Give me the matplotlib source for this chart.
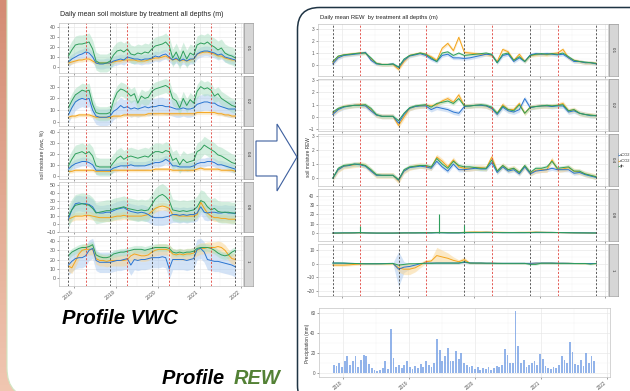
import numpy as np
import pandas as pd
import matplotlib
matplotlib.use("Agg")
import matplotlib.pyplot as plt
import matplotlib.dates as mdates
from matplotlib.patches import FancyBboxPatch, Polygon, Rectangle
from matplotlib.colors import LinearSegmentedColormap

plt.rcParams['font.family'] = ['Liberation Sans', 'DejaVu Sans']

# ---- data -------------------------------------------------------------
days = pd.date_range("2017-11-10", periods=49, freq=pd.DateOffset(months=1))
rain_days = pd.date_range("2017-11-10", periods=97, freq="15D")
season_start = pd.to_datetime(["2017-11-10", "2018-11-10", "2019-11-10", "2020-11-10", "2021-11-10"])
season_end = pd.to_datetime(["2018-04-10", "2019-04-10", "2020-04-10", "2021-04-10"])
depths = ["0.1", "0.2", "0.4", "0.8", "1"]
treatments = ["aCO2", "eCO2", "gh"]

# volumetric water content (%), monthly, per depth: a = aCO2 (blue), e = eCO2 (orange), g = gh (green)
vwc_01_a = [5,8,10,12,13,15,14,10,4,3, 3,4,4,6,7,8,7,10,9,8, 8,7,8,8,9,11,10,12,13,10, 7,9,6,8,6,8,8,13,15,16, 16,15,14,12,13,10,9,8,7]
vwc_01_e = [4,5,6,7,7,8,8,6,4,4, 4,4,4,5,6,6,7,7,7,7, 6,6,6,7,8,9,9,10,11,9, 7,8,6,7,6,7,8,13,14,15, 15,14,13,11,11,9,8,7,7]
vwc_01_g = [11,17,22,23,23,24,25,18,6,4, 4,4,6,12,16,17,15,18,13,12, 14,13,15,14,18,21,22,23,25,21, 9,15,7,16,8,14,12,22,24,23, 25,22,20,17,19,14,12,11,9]
vwc_02_a = [6,12,17,19,20,19,20,10,5,4, 4,4,5,9,11,14,12,13,11,12, 11,12,13,12,13,13,14,14,13,13, 12,11,11,12,11,11,12,15,16,17, 17,16,16,14,13,12,11,11,11]
vwc_02_e = [4,5,5,6,6,6,6,5,4,4, 4,4,4,5,5,5,6,6,6,6, 6,6,6,7,7,7,7,7,7,7, 7,7,7,7,7,7,7,8,8,8, 8,8,8,7,7,6,6,5,5]
vwc_02_g = [12,18,23,25,27,26,27,15,8,7, 7,7,8,18,25,28,27,25,22,24, 16,22,20,21,26,28,29,30,31,29, 20,18,12,20,14,19,16,26,30,28, 29,27,22,24,20,18,16,14,13]
vwc_04_a = [6,9,11,12,13,13,12,10,5,5, 5,5,5,7,8,9,9,9,10,9, 9,9,9,10,11,12,12,13,15,13, 9,9,8,8,8,8,9,11,12,12, 13,13,12,10,10,9,8,7,6]
vwc_04_e = [4,4,5,5,5,5,5,5,4,4, 4,4,4,5,5,5,5,5,5,5, 5,5,5,5,5,6,6,6,6,6, 5,5,5,5,5,5,5,6,7,6, 6,6,6,6,5,5,5,5,4]
vwc_04_g = [9,15,20,21,22,20,22,18,9,8, 8,8,8,12,16,18,15,17,18,17, 16,17,18,17,20,22,22,21,23,22, 14,16,10,15,12,13,14,22,24,28, 26,24,22,19,18,16,14,12,11]
vwc_08_a = [6,18,26,27,26,26,25,22,15,14, 14,15,15,17,19,20,21,18,16,15, 14,15,14,12,9,8,8,8,9,10, 12,12,11,12,11,12,12,14,22,15, 14,15,15,14,14,15,14,14,13]
vwc_08_e = [6,8,10,10,10,11,11,10,9,8, 8,8,8,9,10,10,11,10,10,10, 10,10,11,12,16,20,22,23,22,20, 12,11,10,10,10,10,10,12,28,20, 14,10,8,8,7,7,6,6,6]
vwc_08_g = [10,18,24,25,26,25,24,20,14,15, 16,17,17,19,20,21,22,20,19,18, 17,18,17,18,25,32,36,38,35,30, 18,17,16,17,16,17,18,22,30,28, 22,18,20,16,15,15,15,14,14]
vwc_10_a = [14,18,21,22,22,24,30,32,19,17, 17,17,17,18,19,19,20,21,14,20, 19,20,20,21,22,22,22,23,22,10, 20,20,20,20,19,20,21,31,32,28, 20,19,18,18,17,16,15,14,12]
vwc_10_e = [13,11,18,26,30,31,31,31,21,19, 19,18,19,19,19,19,19,20,24,26, 25,24,24,25,28,30,31,31,31,30, 26,25,26,25,26,26,27,30,32,32, 33,33,33,34,33,30,25,21,20]
vwc_10_g = [24,28,30,32,33,33,34,36,25,23, 22,22,23,26,27,28,28,29,30,31, 31,31,30,31,32,33,33,33,33,32, 28,27,28,27,28,28,29,32,33,33, 33,32,30,27,25,24,25,28,30]
# ribbon half widths (a, e, g) per depth
vwc_sd = [[5, 2, 9], [7, 1.5, 6], [4, 1.5, 8], [10, 5, 14], [11, 6, 4]]

# relative extractable water, monthly
rew_01_a = [0.1,0.6,0.8,0.85,0.9,0.95,1.05,0.4,0.1,0.05, 0.05,0.1,-0.2,0.4,0.75,0.85,0.95,0.8,0.5,0.3, 0.8,0.9,0.6,0.6,0.55,0.6,0.7,0.8,0.9,0.85, 0.2,0.8,0.9,0.3,0.6,0.3,0.85,0.95,0.9,0.95, 0.9,0.85,0.9,0.6,0.3,0.3,0.2,0.2,0.1]
rew_01_e = [0.2,0.7,0.85,0.9,0.95,1.0,1.0,0.5,0.15,0.05, 0.05,0.05,-0.35,0.3,0.8,0.9,1.0,0.9,0.7,0.4, 1.4,1.8,1.2,2.3,1.05,1.0,0.95,0.9,0.9,0.8, 0.3,1.3,1.1,0.4,0.9,0.3,0.8,0.85,0.9,0.85, 0.95,1.0,1.3,0.6,0.4,0.3,0.2,0.2,0.15]
rew_01_g = [0.3,0.75,0.85,0.9,0.95,1.0,1.0,0.6,0.15,0.05, 0.05,0.1,-0.15,0.5,0.8,0.9,1.0,0.9,0.6,0.3, 1.0,1.1,0.8,1.0,0.8,0.85,0.9,0.95,1.0,0.9, 0.2,0.9,1.0,0.4,0.7,0.3,0.8,0.9,0.95,0.9, 0.95,0.9,1.0,0.7,0.4,0.3,0.25,0.2,0.15]
rew_02_a = [0.2,0.6,0.8,0.9,0.95,0.95,0.9,0.5,0.15,0.05, 0.05,0.05,-0.5,0.2,0.7,0.85,0.9,0.9,0.6,0.8, 0.7,0.6,0.4,0.3,0.85,0.9,0.95,0.95,0.9,0.7, 0.2,0.8,0.5,0.4,0.6,1.5,0.75,0.85,0.9,0.9, 0.85,0.9,0.9,0.4,0.5,0.3,0.2,0.1,0.1]
rew_02_e = [0.3,0.65,0.85,0.9,0.95,1.0,0.95,0.6,0.15,0.05, 0.05,0.05,-0.7,0.0,0.7,0.85,0.9,0.95,0.9,1.0, 1.3,1.5,1.2,1.8,0.9,0.9,0.95,0.95,0.9,0.7, 0.3,1.0,0.6,0.6,1.1,0.3,0.8,0.85,0.9,0.9, 0.9,0.95,1.1,0.5,0.6,0.3,0.2,0.15,0.1]
rew_02_g = [0.4,0.7,0.85,0.9,0.95,0.95,1.0,0.7,0.2,0.05, 0.05,0.05,-0.3,0.3,0.75,0.9,0.95,1.0,0.8,1.1, 1.2,1.3,1.1,1.5,0.9,0.9,0.95,1.0,0.95,0.8, 0.3,0.9,0.6,0.5,1.0,0.3,0.8,0.85,0.9,0.95, 0.9,0.95,1.0,0.5,0.6,0.3,0.2,0.15,0.1]
rew_04_a = [0.0,0.6,0.85,0.9,1.0,0.95,0.85,0.5,0.2,0.2, 0.2,0.2,-0.15,0.5,0.75,0.8,0.85,0.8,0.7,1.2, 0.8,0.5,1.0,0.6,0.6,0.65,0.7,0.65,0.65,1.1, 0.4,0.8,0.5,0.6,0.3,0.8,0.3,0.5,0.55,0.6, 0.7,0.6,0.6,0.6,0.35,0.4,0.25,0.15,0.05]
rew_04_e = [0.0,0.6,0.85,0.9,0.95,1.0,0.9,0.55,0.2,0.2, 0.2,0.2,-0.2,0.5,0.75,0.85,0.9,0.85,0.75,1.5, 1.2,0.8,1.3,0.8,0.7,0.7,0.75,0.75,0.7,1.5, 0.5,0.9,0.6,0.7,0.4,0.85,0.35,0.55,0.6,0.6, 1.3,0.6,0.65,0.75,0.5,0.45,0.3,0.2,0.1]
rew_04_g = [0.0,0.7,0.9,0.95,1.0,1.0,0.9,0.6,0.25,0.2, 0.2,0.2,-0.1,0.6,0.8,0.85,0.9,0.9,0.8,1.4, 1.0,0.7,1.2,0.9,0.8,0.8,0.75,0.7,0.7,1.3, 0.5,0.9,0.6,0.7,0.4,0.9,0.4,0.7,0.7,0.8, 1.2,0.7,0.75,0.8,0.5,0.5,0.3,0.2,0.1]
rew_08_a = [0.2,0.2,0.3,0.3,0.3,0.5,0.3,0.2,0.1,0.1, 0.1,0.1,0.2,0.3,0.3,0.3,0.3,0.3,0.3,0.5, 0.5,0.3,0.3,0.3,0.5,0.6,0.7,0.7,0.8,0.8, 0.7,0.6,0.6,0.6,0.6,0.6,0.6,0.8,0.8,0.8, 0.8,0.7,0.6,0.5,0.4,0.4,0.3,0.3,0.2]
rew_08_e = [0,0,0.1,0.2,0.3,0.4,0.3,0.2,0.1,0.1, 0.1,0.1,0.2,0.3,0.4,0.4,0.5,0.6,0.6,0.8, 0.8,0.7,0.6,0.6,1.0,1.2,1.3,1.2,1.2,1.1, 1.0,0.9,0.8,0.8,0.9,0.9,1.0,1.2,1.0,0.9, 0.8,0.7,0.6,0.5,0.4,0.4,0.3,0.2,0.2]
rew_08_g = [0.1,0.2,0.3,0.3,0.4,0.6,0.3,0.2,0.1,0.1, 0.1,0.1,0.2,0.3,0.3,0.3,0.4,0.4,0.4,0.6, 0.5,0.4,0.4,0.4,0.7,0.8,0.8,0.8,0.9,0.8, 0.7,0.6,0.6,0.6,0.6,0.6,0.7,0.9,0.9,0.8, 0.8,0.7,0.6,0.5,0.4,0.3,0.3,0.2,0.2]
rew_10_a = [0.5,0.5,0.4,0.3,0.2,0.1,0,0,0,0.1, 0.2,0.3,-4,-2.5,-2,-1,0,0.5,0.5,0.5, 0.5,0.5,0.5,0.5,1.0,0.6,0.5,0.5,0.4,0.4, 0.3,0.3,0.3,0.3,0.3,0.3,0.3,0.5,0.5,0.5, 0.5,0.4,0.4,0.3,0.2,0.2,0.2,0.2,0.2]
rew_10_e = [-1,-1,-1,-0.8,-0.5,-0.2,0,0,0,0, 0,0,-3,-4,-4,-3,-1,1.5,2,6, 5,4,2.5,1.5,3,0.5,0.4,0.4,0.3,0.3, 0.3,0.2,0.2,0.2,0.2,0.2,0.2,0.4,0.4,0.4, 0.4,0.3,0.3,0.3,0.2,0.1,0.1,0.1,0.1]
rew_10_g = [0.5,0.5,0.5,0.3,0.2,0.1,0,0,0,0, 0.1,0.2,-1,-0.5,0,0,0.2,0.3,0.3,0.5, 0.5,0.5,0.5,0.5,1.5,0.5,0.5,0.5,0.4,0.4, 0.3,0.3,0.3,0.3,0.3,0.3,-0.5,-0.5,0.4,0.4, 0.4,0.3,0.3,0.3,0.2,0.2,0.2,-0.3,0.2]
rew_10_a_sd = [0.5,0.5,0.5,0.5,0.5,0.5,0.5,0.5,0.5,0.5, 0.5,0.5,13,4,2,1,0.5,0.5,0.5,0.5, 0.5,0.5,0.5,0.5,0.5,0.5,0.5,0.5,0.5,0.5, 0.5,0.5,0.5,0.5,0.5,0.5,0.5,0.5,0.5,0.5, 0.5,0.5,0.5,0.5,0.5,0.5,0.5,0.5,0.5]
rew_10_e_sd = [0.8,0.8,0.8,0.8,0.8,0.8,0.8,0.8,0.8,0.8, 0.8,0.8,3,4,4,3,2,1.5,1.5,6, 5,4,2.5,1.5,2,0.5,0.5,0.5,0.5,0.5, 0.5,0.5,0.5,0.5,0.5,0.5,0.5,0.5,0.5,0.5, 0.5,0.5,0.5,0.5,0.5,0.5,0.5,0.5,0.5]
rew_sd = [[0.15, 0.15, 0.1], [0.2, 0.2, 0.15], [0.15, 0.2, 0.15], [0.4, 0.4, 0.4], [rew_10_a_sd, rew_10_e_sd, 0.6]]
# short events at 0.8 m (green)
spike_dates = pd.to_datetime(["2018-04-10", "2019-06-20", "2019-11-10"])
spike_vals = [8, 20, 9]

# precipitation (mm), 15-day steps
rain = [8,7,10,6,12,17,8,12,17,6, 13,18,17,9,5,3,2,3,5,12, 4,44,15,6,8,5,8,12,6,4,
        7,5,9,6,12,8,6,10,34,23, 12,17,25,12,12,22,14,20,10,8, 6,7,4,6,3,5,4,6,3,5,
        7,6,8,24,18,10,10,62,27,10, 13,6,8,10,12,8,19,14,7,5, 4,6,5,8,17,13,10,31,21,9,
        8,13,7,20,10,17,12]

vwc = [(vwc_01_a, vwc_01_e, vwc_01_g), (vwc_02_a, vwc_02_e, vwc_02_g), (vwc_04_a, vwc_04_e, vwc_04_g),
       (vwc_08_a, vwc_08_e, vwc_08_g), (vwc_10_a, vwc_10_e, vwc_10_g)]
rew = [(rew_01_a, rew_01_e, rew_01_g), (rew_02_a, rew_02_e, rew_02_g), (rew_04_a, rew_04_e, rew_04_g),
       (rew_08_a, rew_08_e, rew_08_g), (rew_10_a, rew_10_e, rew_10_g)]

# ---- style -------------------------------------------------------------
line_c = ['#2a74d0', '#f4a51c', '#2e9e5b']
fill_c = ['#a9c8ef', '#f9d48f', '#a9dfc0']
W, H = 630, 391
XLIM = (pd.Timestamp("2017-08-20"), pd.Timestamp("2022-01-15"))

fig = plt.figure(figsize=(W / 100, H / 100), dpi=100)
bg = fig.add_axes([0, 0, 1, 1])
bg.set_xlim(0, W)
bg.set_ylim(H, 0)
bg.axis('off')
cmap = LinearSegmentedColormap.from_list('s', ['#d48c73', '#f0c6b0'])
bg.imshow(np.linspace(0, 1, 64)[:, None], cmap=cmap, aspect='auto', extent=[0, 40, H, 0])
bg.add_patch(FancyBboxPatch((7, -60), 800, 458, boxstyle='round,pad=0,rounding_size=30',
                            fc='white', ec='#cfe6c1', lw=0.8))
bg.add_patch(FancyBboxPatch((297.5, 7.5), 400, 400, boxstyle='round,pad=0,rounding_size=22',
                            fc='white', ec='#1f3444', lw=1.1))
bg.add_patch(Polygon([(256, 141), (277, 141), (277, 124), (297, 157), (277, 191), (277, 176), (256, 176)],
                     closed=True, fc='white', ec='#3d5f9e', lw=0.8))
bg.text(62, 318, "Profile VWC", fontsize=14.6, fontweight='bold', style='italic', va='center')
bg.text(230, 378, "Profile ", fontsize=14.4, fontweight='bold', style='italic', va='center', ha='right')
bg.text(234, 378, "REW", fontsize=14.4, fontweight='bold', style='italic', va='center', color='#538135')


def px_axes(x0, y0, x1, y1):
    return fig.add_axes([x0 / W, 1 - y1 / H, (x1 - x0) / W, (y1 - y0) / H])


def style(ax, fs):
    ax.set_facecolor('white')
    ax.grid(True, which='major', color='#e6e6e6', lw=0.45)
    ax.grid(True, which='minor', color='#f2f2f2', lw=0.3)
    ax.set_axisbelow(True)
    for s in ax.spines.values():
        s.set_color('#c4c4c4')
        s.set_linewidth(0.5)
    ax.tick_params(labelsize=fs, length=1.5, width=0.4, pad=1, colors='#555555')
    ax.set_xlim(*XLIM)
    ax.xaxis.set_major_locator(mdates.YearLocator())
    ax.xaxis.set_minor_locator(mdates.MonthLocator(bymonth=7))
    ax.xaxis.set_major_formatter(mdates.DateFormatter('%Y'))


def facet(x0, x1, y0, y1, series, sds, ylim, yticks, strip, fs, bottom=False):
    ax = px_axes(x0, y0, x1, y1)
    style(ax, fs)
    for vals, sd, fc in zip(series, sds, fill_c):
        v = np.asarray(vals, float)
        s = np.asarray(sd, float)
        ax.fill_between(days, v - s, v + s, color=fc, alpha=0.5, lw=0)
    for i in [1, 0, 2]:
        ax.plot(days, series[i], color=line_c[i], lw=0.7)
    for d in season_start:
        ax.axvline(d, color='#444444', ls=(0, (2.5, 2)), lw=0.6)
    for d in season_end:
        ax.axvline(d, color='#e0413a', ls=(0, (2.5, 2)), lw=0.6)
    ax.set_ylim(*ylim)
    ax.set_yticks(yticks)
    ax.set_yticks([(a + b) / 2 for a, b in zip(yticks[:-1], yticks[1:])], minor=True)
    ax.tick_params(axis='y', which='minor', length=0)
    ax.tick_params(axis='x', which='minor', length=0)
    if bottom:
        for t in ax.get_xticklabels():
            t.set_rotation(40)
            t.set_ha('right')
    else:
        ax.tick_params(axis='x', labelbottom=False)
    sx = px_axes(x1 + 0.5, y0, x1 + 9.5, y1)
    sx.set_facecolor('#d6d6d6')
    sx.set_xticks([])
    sx.set_yticks([])
    for s in sx.spines.values():
        s.set_color('#9a9a9a')
        s.set_linewidth(0.5)
    sx.text(0.5, 0.5, strip, rotation=270, ha='center', va='center', fontsize=3.2, color='#333333',
            transform=sx.transAxes)
    return ax


# ---- left: VWC --------------------------------------------------------
fig.text(60 / W, 1 - 15 / H, "Daily mean soil moisture by treatment all depths (m)", fontsize=5,
         va='center', color='#222222')
vwc_tops = [23, 76, 129, 182, 236]
vwc_lims = [(-6, 44), (-3.4, 39), (-3, 42.7), (-10.5, 54), (-8.6, 45.4)]
vwc_ticks = [[0, 10, 20, 30, 40], [0, 10, 20, 30], [0, 10, 20, 30, 40],
             [-10, 0, 10, 20, 30, 40, 50], [0, 10, 20, 30, 40]]
for i in range(5):
    facet(59, 243, vwc_tops[i], vwc_tops[i] + 50, vwc[i], vwc_sd[i], vwc_lims[i], vwc_ticks[i],
          depths[i], 3.8, bottom=(i == 4))
fig.text(43 / W, 1 - 155 / H, "soil moisture (vwc, %)", rotation=90, fontsize=3.6, va='center',
         ha='center', color='#333333')

# ---- right: REW -------------------------------------------------------
fig.text(320 / W, 1 - 17 / H, "Daily mean REW  by treatment all depths (m)", fontsize=4.2,
         va='center', color='#222222')
rew_tops = [24, 79, 134, 189, 244]
rew_lims = [(-0.9, 3.4), (-1.15, 3.1), (-0.56, 3.14), (-8.4, 47.3), (-23.7, 14.5)]
rew_ticks = [[0, 1, 2, 3], [-1, 0, 1, 2, 3], [0, 1, 2, 3], [0, 10, 20, 30, 40], [-20, -10, 0, 10]]
for i in range(5):
    ax = facet(318, 608, rew_tops[i], rew_tops[i] + 52, rew[i], rew_sd[i], rew_lims[i], rew_ticks[i],
               depths[i], 3.4)
    if i == 3:
        ax.vlines(spike_dates, 0, spike_vals, color=line_c[2], lw=0.8)
fig.text(308 / W, 1 - 157 / H, "soil moisture REW", rotation=90, fontsize=3.4, va='center',
         ha='center', color='#333333')

# legend
for j, (lab, lc, fc) in enumerate(zip(treatments, line_c, fill_c)):
    yy = 155 + j * 5.5
    bg.add_patch(Rectangle((614.5, yy - 2), 4, 4, fc=fc, ec='none'))
    bg.plot([614.5, 618.5], [yy, yy], color=lc, lw=0.6)
    bg.text(620, yy, lab, fontsize=2.9, va='center', color='#333333')

# precipitation
pa = px_axes(319, 308, 610, 377)
style(pa, 3.4)
pa.bar(rain_days, rain, width=10, color='#6f9be3', alpha=0.75, lw=0)
pa.set_ylim(-4, 65)
pa.set_yticks([0, 20, 40, 60])
pa.set_yticks([10, 30, 50], minor=True)
pa.tick_params(which='minor', length=0)
for t in pa.get_xticklabels():
    t.set_rotation(40)
    t.set_ha('right')
fig.text(307 / W, 1 - 343 / H, "Precipitation (mm)", rotation=90, fontsize=3.4, va='center',
         ha='center', color='#333333')

fig.savefig("out.png", dpi=100)
